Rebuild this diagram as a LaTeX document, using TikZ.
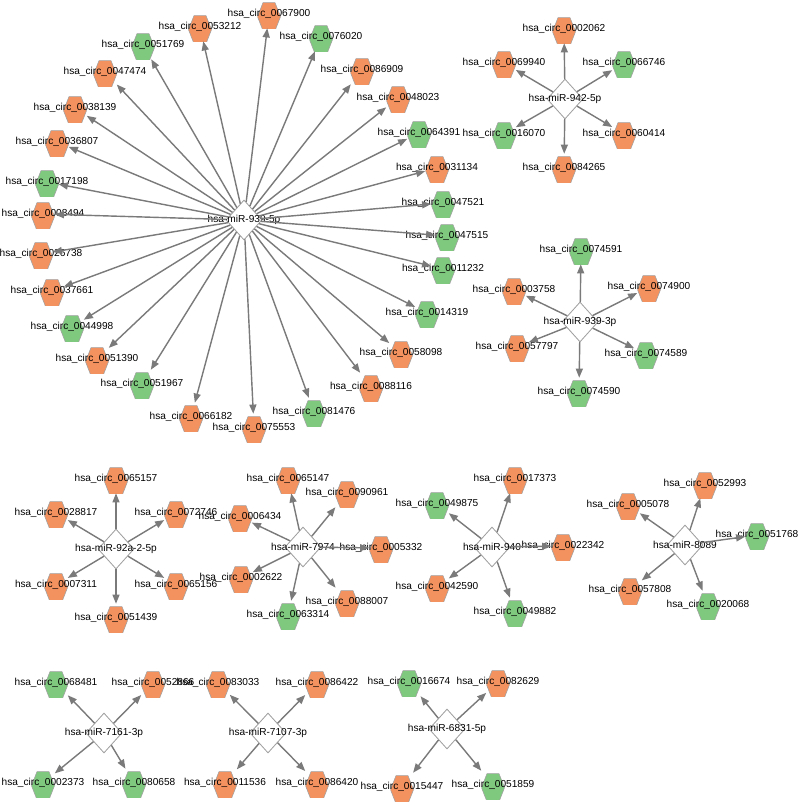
\documentclass[tikz,border=0pt]{standalone}
\usepackage{fontspec}
\setmainfont{Liberation Sans}
\usetikzlibrary{arrows.meta,shapes.geometric}
\definecolor{up}{HTML}{F4925F}
\definecolor{down}{HTML}{7FC97F}
\definecolor{edgegray}{HTML}{7A7A7A}
\definecolor{rim}{HTML}{A0A0A0}

\begin{document}
\begin{tikzpicture}[x=0.025cm, y=-0.025cm, >={Triangle[length=6.5pt,width=5pt]},
    font=\fontsize{7.2}{8}\selectfont,
    mirnode/.style={diamond, draw=rim, fill=white, line width=0.6pt,
      minimum width=0.9cm, minimum height=1cm, inner sep=0pt},
    circnode/.style={rectangle, inner sep=0pt, minimum width=0.575cm, minimum height=0.7cm,
      path picture={\filldraw[fill=#1, draw=rim, line width=0.4pt,
        shift={(path picture bounding box.center)}]
        (-11.5,0) -- (-6,-14) -- (6,-14) -- (11.5,0) -- (6,14) -- (-6,14) -- cycle;}},
    link/.style={->, draw=edgegray, fill=edgegray, line width=1pt}]
  \useasboundingbox (0,0) rectangle (800,802);

  % hsa-miR-939-5p, the big star
  \node[mirnode] (m9395p) at (244,220) {\makebox[0pt]{hsa-miR-939-5p}};
  \foreach \id/\px/\py/\col in {0053212/200/27/up, 0067900/269/14/up, 0076020/321/37/down,
      0051769/143/45/down, 0047474/105/72/up, 0086909/362/70/up, 0048023/398/98/up,
      0038139/75/108/up, 0036807/57/142/up, 0064391/419/133/down, 0031134/437/168/up,
      0017198/47/182/down, 0008494/43/214/up, 0047521/443/203/down, 0047515/447/236/down,
      0026738/41/254/up, 0011232/443/269/down, 0037661/52/291/up, 0044998/72/327/down,
      0014319/427/313/down, 0051390/97/359/up, 0058098/401/353/up, 0051967/142/384/down,
      0088116/371/387/up, 0066182/191/417/up, 0081476/314/412/down, 0075553/254/428/up} {
    \node[circnode=\col] (c\id) at (\px,\py) {\makebox[0pt]{hsa\_circ\_\id}};
    \draw[link] (m9395p) -- (c\id);
  }

  % hsa-miR-942-5p
  \node[mirnode] (m9425p) at (565,99) {\makebox[0pt]{hsa-miR-942-5p}};
  \foreach \id/\px/\py/\col in {0002062/564/29/up, 0069940/504/63/up, 0066746/624/63/down,
      0016070/504/134/down, 0060414/624/134/up, 0084265/564/168/up} {
    \node[circnode=\col] (c\id) at (\px,\py) {\makebox[0pt]{hsa\_circ\_\id}};
    \draw[link] (m9425p) -- (c\id);
  }

  % hsa-miR-939-3p
  \node[mirnode] (m9393p) at (580,322) {\makebox[0pt]{hsa-miR-939-3p}};
  \foreach \id/\px/\py/\col in {0074591/581/250/down, 0003758/514/290/up, 0074900/649/287/up,
      0057797/517/347/up, 0074589/646/354/down, 0074590/579/392/down} {
    \node[circnode=\col] (c\id) at (\px,\py) {\makebox[0pt]{hsa\_circ\_\id}};
    \draw[link] (m9393p) -- (c\id);
  }

  % hsa-miR-92a-2-5p
  \node[mirnode] (m92a) at (116,549) {\makebox[0pt]{hsa-miR-92a-2-5p}};
  \foreach \id/\px/\py/\col in {0065157/116/479/up, 0028817/56/513/up, 0072746/176/513/up,
      0007311/56/585/up, 0065156/176/585/up, 0051439/116/618/up} {
    \node[circnode=\col] (c\id) at (\px,\py) {\makebox[0pt]{hsa\_circ\_\id}};
    \draw[link] (m92a) -- (c\id);
  }

  % hsa-miR-7974
  \node[mirnode] (m7974) at (303,547) {\makebox[0pt]{hsa-miR-7974}};
  \foreach \id/\px/\py/\col in {0065147/288/479/up, 0090961/347/493/up, 0006434/240/517/up,
      0005332/381/548/up, 0002622/241/578/up, 0088007/347/602/up, 0063314/288/615/down} {
    \node[circnode=\col] (c\id) at (\px,\py) {\makebox[0pt]{hsa\_circ\_\id}};
    \draw[link] (m7974) -- (c\id);
  }

  % hsa-miR-940
  \node[mirnode] (m940) at (492,547) {\makebox[0pt]{hsa-miR-940}};
  \foreach \id/\px/\py/\col in {0017373/515/479/up, 0049875/437/504/down, 0022342/563/546/up,
      0042590/437/587/up, 0049882/515/612/down} {
    \node[circnode=\col] (c\id) at (\px,\py) {\makebox[0pt]{hsa\_circ\_\id}};
    \draw[link] (m940) -- (c\id);
  }

  % hsa-miR-8089
  \node[mirnode] (m8089) at (685,545) {\makebox[0pt]{hsa-miR-8089}};
  \foreach \id/\px/\py/\col in {0052993/705/484/up, 0005078/628/505/up, 0051768/757/535/down,
      0057808/630/590/up, 0020068/708/605/down} {
    \node[circnode=\col] (c\id) at (\px,\py) {\makebox[0pt]{hsa\_circ\_\id}};
    \draw[link] (m8089) -- (c\id);
  }

  % hsa-miR-7161-3p
  \node[mirnode] (m7161) at (104,733) {\makebox[0pt]{hsa-miR-7161-3p}};
  \foreach \id/\px/\py/\col in {0068481/56/683/down, 0052866/153/683/up,
      0002373/43/783/down, 0080658/134/783/down} {
    \node[circnode=\col] (c\id) at (\px,\py) {\makebox[0pt]{hsa\_circ\_\id}};
    \draw[link] (m7161) -- (c\id);
  }

  % hsa-miR-7107-3p
  \node[mirnode] (m7107) at (268,733) {\makebox[0pt]{hsa-miR-7107-3p}};
  \foreach \id/\px/\py/\col in {0083033/218/683/up, 0086422/317/683/up,
      0011536/225/783/up, 0086420/317/783/up} {
    \node[circnode=\col] (c\id) at (\px,\py) {\makebox[0pt]{hsa\_circ\_\id}};
    \draw[link] (m7107) -- (c\id);
  }

  % hsa-miR-6831-5p
  \node[mirnode] (m6831) at (447,729) {\makebox[0pt]{hsa-miR-6831-5p}};
  \foreach \id/\px/\py/\col in {0016674/409/682/down, 0082629/498/682/up,
      0015447/402/787/up, 0051859/493/785/down} {
    \node[circnode=\col] (c\id) at (\px,\py) {\makebox[0pt]{hsa\_circ\_\id}};
    \draw[link] (m6831) -- (c\id);
  }
\end{tikzpicture}
\end{document}
